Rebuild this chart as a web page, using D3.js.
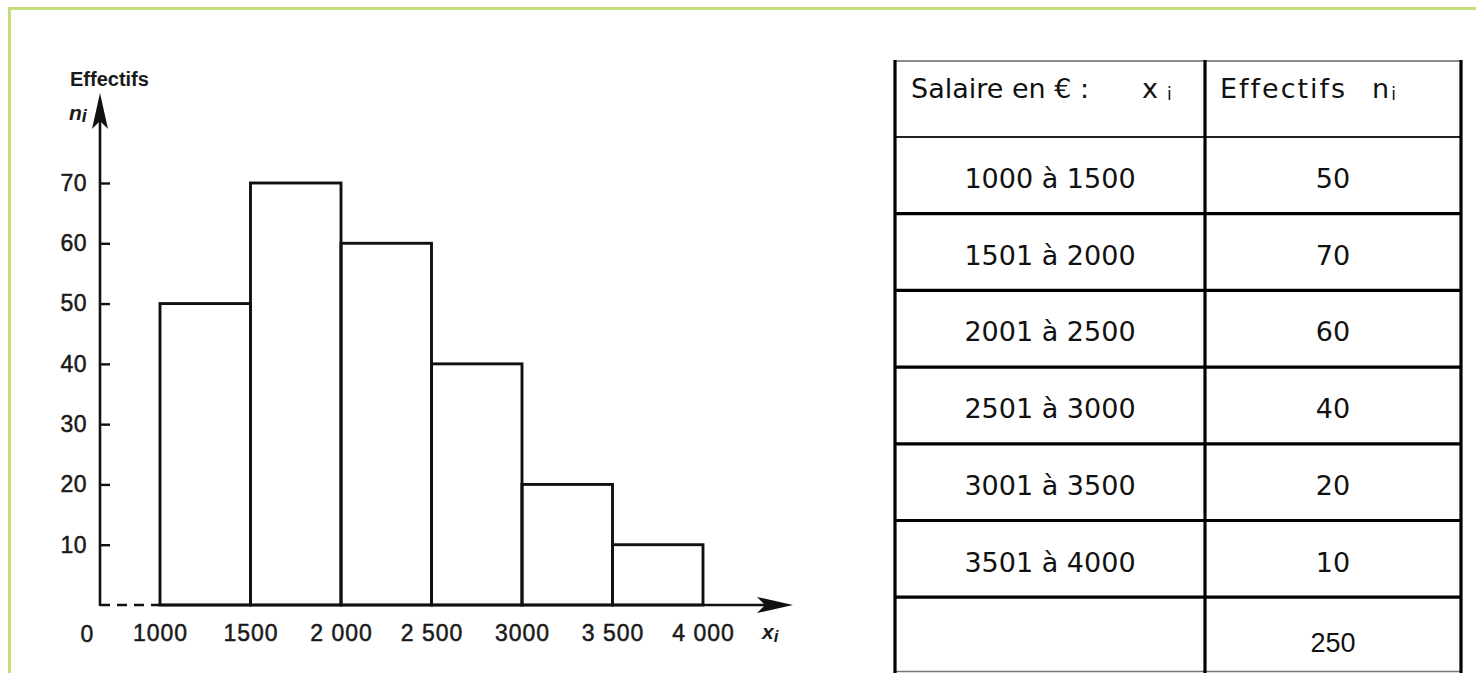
<!DOCTYPE html>
<html>
<head>
<meta charset="utf-8">
<script src="https://cdn.jsdelivr.net/npm/d3@7"></script>
<style>
  body { margin: 0; background: #fff; }
  svg { display: block; }
</style>
</head>
<body>
<div id="chart"></div>
<script>
// data
var bornes = [1000, 1500, 2000, 2500, 3000, 3500, 4000];
var effectifs = [50, 70, 60, 40, 20, 10];
var xTickLabels = ["1000", "1500", "2 000", "2 500", "3000", "3 500", "4 000"];
var yTicks = [10, 20, 30, 40, 50, 60, 70];
var classes = ["1000 à 1500", "1501 à 2000", "2001 à 2500", "2501 à 3000", "3001 à 3500", "3501 à 4000"];

var W = 1476, H = 673;

var svg = d3.select("#chart")
  .append("svg")
    .attr("width", W)
    .attr("height", H);

// green frame (only top and left visible)
svg.append("rect")
  .attr("x", 9.5).attr("y", 8.5)
  .attr("width", W + 20).attr("height", H + 20)
  .attr("fill", "none")
  .attr("stroke", "#c4df7a")
  .attr("stroke-width", 3);

/////////////////////////////////////
////////////Histogram////////////////
/////////////////////////////////////

var origin = {x: 100, y: 605};

var x = d3.scaleLinear()
  .domain([bornes[0], bornes[bornes.length - 1]])
  .range([160, 703]);

var y = d3.scaleLinear()
  .domain([0, 70])
  .range([origin.y, 183]);

var chartFont = "'Liberation Sans', Arial, sans-serif";
var ink = "#1a1a1a";

var g = svg.append("g");

// bars
var bins = effectifs.map(function(v, i) { return {x0: bornes[i], x1: bornes[i + 1], n: v}; });

g.selectAll("rect.bar")
  .data(bins)
  .enter()
  .append("rect")
    .attr("class", "bar")
    .attr("x", function(d) { return x(d.x0); })
    .attr("y", function(d) { return y(d.n); })
    .attr("width", function(d) { return x(d.x1) - x(d.x0); })
    .attr("height", function(d) { return y(0) - y(d.n); })
    .attr("fill", "none")
    .attr("stroke", "#111")
    .attr("stroke-width", 2.9);

// y axis (ticks only, line drawn separately)
var yAxis = g.append("g")
  .attr("transform", "translate(" + origin.x + ",0)")
  .call(d3.axisLeft(y).tickValues(yTicks).tickSize(-10).tickPadding(13));
yAxis.select(".domain").remove();
yAxis.selectAll("line").attr("stroke", "#111").attr("stroke-width", 2.4);
yAxis.selectAll("text")
  .attr("fill", ink)
  .attr("stroke", ink)
  .attr("stroke-width", 0.5)
  .style("font-family", chartFont)
  .style("font-size", "23px")
  .style("letter-spacing", "0.5px");

// x axis labels
var xAxis = g.append("g")
  .attr("transform", "translate(0," + origin.y + ")")
  .call(d3.axisBottom(x).tickValues(bornes).tickSize(0).tickPadding(20)
    .tickFormat(function(d, i) { return xTickLabels[i]; }));
xAxis.select(".domain").remove();
xAxis.selectAll("text")
  .attr("fill", ink)
  .attr("stroke", ink)
  .attr("stroke-width", 0.5)
  .style("font-family", chartFont)
  .style("font-size", "23px")
  .style("letter-spacing", "1px");

g.append("text")
  .attr("x", 87).attr("y", 642)
  .attr("text-anchor", "middle")
  .attr("fill", ink)
  .attr("stroke", ink)
  .attr("stroke-width", 0.5)
  .style("font-family", chartFont)
  .style("font-size", "23px")
  .text("0");

// axis lines
g.append("line")
  .attr("x1", origin.x).attr("x2", origin.x)
  .attr("y1", origin.y + 1).attr("y2", 110)
  .attr("stroke", "#111").attr("stroke-width", 2.6);
g.append("line")
  .attr("x1", x(bornes[0])).attr("x2", 770)
  .attr("y1", origin.y).attr("y2", origin.y)
  .attr("stroke", "#111").attr("stroke-width", 2.6);
g.append("line")
  .attr("x1", origin.x).attr("x2", x(bornes[0]))
  .attr("y1", origin.y).attr("y2", origin.y)
  .attr("stroke", "#111").attr("stroke-width", 2.6)
  .attr("stroke-dasharray", "10,7");

// arrow heads
g.append("path")
  .attr("d", "M" + origin.x + ",93 L" + (origin.x + 8) + ",129 L" + origin.x + ",121 L" + (origin.x - 8) + ",129 Z")
  .attr("fill", "#111");
g.append("path")
  .attr("d", "M793," + origin.y + " L757," + (origin.y - 8) + " L765," + origin.y + " L757," + (origin.y + 8) + " Z")
  .attr("fill", "#111");

// axis titles
g.append("text")
  .attr("x", 70).attr("y", 86)
  .attr("fill", ink)
  .style("font-family", chartFont)
  .style("font-size", "20px")
  .style("font-weight", "bold")
  .text("Effectifs");

var ni = g.append("text")
  .attr("x", 69).attr("y", 120)
  .attr("fill", ink)
  .style("font-family", chartFont)
  .style("font-size", "21px")
  .style("font-style", "italic")
  .style("font-weight", "bold");
ni.append("tspan").text("n");
ni.append("tspan").attr("dy", 2).style("font-size", "18px").text("i");

var xi = g.append("text")
  .attr("x", 762).attr("y", 639)
  .attr("fill", ink)
  .style("font-family", chartFont)
  .style("font-size", "21px")
  .style("font-style", "italic")
  .style("font-weight", "bold");
xi.append("tspan").text("x");
xi.append("tspan").attr("dy", 3).style("font-size", "17px").text("i");

/////////////////////////////////////
//////////////Table//////////////////
/////////////////////////////////////

var tFont = "'DejaVu Sans', sans-serif";
var tLeft = 895, tMid = 1205, tRight = 1461;
var tTop = 61, headBottom = 137, rowH = 76.7;

var rows = classes.map(function(c, i) { return {classe: c, n: effectifs[i]}; });
var total = d3.sum(effectifs);

var t = svg.append("g");

// horizontal lines
t.append("line")
  .attr("x1", tLeft).attr("x2", tRight)
  .attr("y1", tTop).attr("y2", tTop)
  .attr("stroke", "#666").attr("stroke-width", 1.5);
t.append("line")
  .attr("x1", tLeft).attr("x2", tRight)
  .attr("y1", headBottom).attr("y2", headBottom)
  .attr("stroke", "#222").attr("stroke-width", 1.8);
t.selectAll("line.row")
  .data(d3.range(1, rows.length + 1))
  .enter()
  .append("line")
    .attr("class", "row")
    .attr("x1", tLeft).attr("x2", tRight)
    .attr("y1", function(d) { return headBottom + d * rowH; })
    .attr("y2", function(d) { return headBottom + d * rowH; })
    .attr("stroke", "#000").attr("stroke-width", 3.2);
t.append("line")
  .attr("x1", tLeft).attr("x2", tRight)
  .attr("y1", 671.5).attr("y2", 671.5)
  .attr("stroke", "#777").attr("stroke-width", 1.5);

// vertical lines
[tLeft, tMid, tRight].forEach(function(xv) {
  t.append("line")
    .attr("x1", xv).attr("x2", xv)
    .attr("y1", tTop - 1).attr("y2", H)
    .attr("stroke", "#000").attr("stroke-width", 3.2);
});

// header
var h1 = t.append("text")
  .attr("x", 911).attr("y", 98)
  .attr("fill", "#111")
  .style("font-family", tFont)
  .style("font-size", "27px");
h1.append("tspan").text("Salaire en € :");
h1.append("tspan").attr("x", 1142).text("x");
h1.append("tspan").attr("x", 1167).attr("dy", 2).style("font-size", "17px").text("i");

var h2 = t.append("text")
  .attr("x", 1220).attr("y", 98)
  .attr("fill", "#111")
  .style("font-family", tFont)
  .style("font-size", "27px")
  .style("letter-spacing", "2px");
h2.append("tspan").text("Effectifs");
h2.append("tspan").attr("x", 1372).text("n");
h2.append("tspan").attr("dy", 2).style("font-size", "17px").style("letter-spacing", "0px").text("i");

// body
var rowG = t.selectAll("g.trow")
  .data(rows)
  .enter()
  .append("g")
    .attr("class", "trow")
    .attr("transform", function(d, i) { return "translate(0," + (headBottom + i * rowH) + ")"; });

rowG.append("text")
  .attr("x", (tLeft + tMid) / 2)
  .attr("y", 51)
  .attr("text-anchor", "middle")
  .attr("fill", "#111")
  .style("font-family", tFont)
  .style("font-size", "27px")
  .text(function(d) { return d.classe; });

rowG.append("text")
  .attr("x", (tMid + tRight) / 2)
  .attr("y", 51)
  .attr("text-anchor", "middle")
  .attr("fill", "#111")
  .style("font-family", tFont)
  .style("font-size", "27px")
  .text(function(d) { return d.n; });

t.append("text")
  .attr("x", (tMid + tRight) / 2)
  .attr("y", headBottom + rows.length * rowH + 55)
  .attr("text-anchor", "middle")
  .attr("fill", "#111")
  .style("font-family", "'Liberation Sans', Arial, sans-serif")
  .style("font-size", "27px")
  .text(total);
</script>
</body>
</html>
